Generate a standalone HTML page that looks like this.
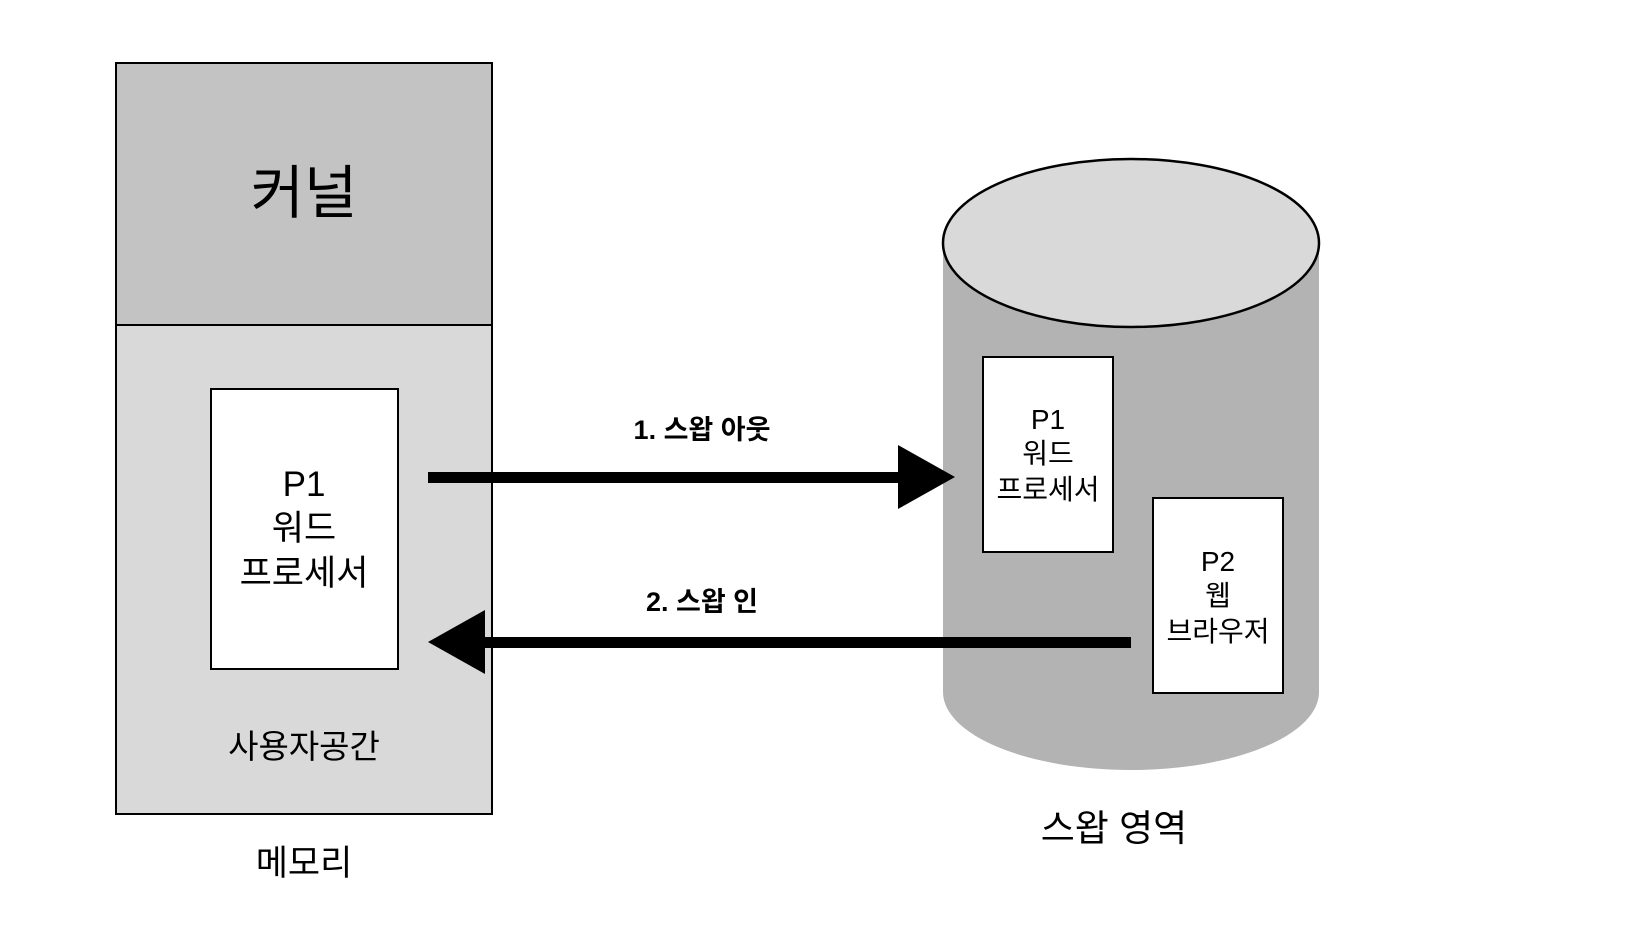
<!DOCTYPE html>
<html><head><meta charset="utf-8"><style>html,body{margin:0;padding:0;background:#fff}</style></head>
<body>
<svg width="1637" height="932" viewBox="0 0 1637 932" xmlns="http://www.w3.org/2000/svg" font-family="'Liberation Sans','Noto Sans CJK KR',sans-serif">
<rect x="0" y="0" width="1637" height="932" fill="#fff"/>
<rect x="116" y="63" width="376" height="262" fill="#c3c3c3" stroke="#000" stroke-width="2"/>
<rect x="116" y="325" width="376" height="489" fill="#d9d9d9" stroke="#000" stroke-width="2"/>
<rect x="211" y="389" width="187" height="280" fill="#fff" stroke="#000" stroke-width="2"/>
<text x="304" y="213" font-size="58" text-anchor="middle">커널</text>
<g font-size="35" text-anchor="middle">
<text x="304" y="496">P1</text>
<text x="304" y="540">워드</text>
<text x="304" y="585">프로세서</text>
</g>
<text x="304" y="758" font-size="33" text-anchor="middle">사용자공간</text>
<text x="304" y="875" font-size="35" text-anchor="middle">메모리</text>
<!-- cylinder -->
<path d="M943 243 L943 692 A188 78 0 0 0 1319 692 L1319 243 Z" fill="#b3b3b3"/>
<ellipse cx="1131" cy="243" rx="188" ry="84" fill="#d9d9d9" stroke="#000" stroke-width="2.5"/>
<rect x="983" y="357" width="130" height="195" fill="#fff" stroke="#000" stroke-width="2"/>
<rect x="1153" y="498" width="130" height="195" fill="#fff" stroke="#000" stroke-width="2"/>
<g font-size="28" text-anchor="middle">
<text x="1048" y="429">P1</text>
<text x="1048" y="463">워드</text>
<text x="1048" y="499">프로세서</text>
<text x="1218" y="571">P2</text>
<text x="1218" y="605">웹</text>
<text x="1218" y="641">브라우저</text>
</g>
<text x="1114" y="841" font-size="37" text-anchor="middle">스왑 영역</text>
<!-- arrows -->
<rect x="428" y="472" width="475" height="11" fill="#000"/>
<polygon points="898,445 955,477 898,509" fill="#000"/>
<rect x="480" y="637" width="651" height="11" fill="#000"/>
<polygon points="485,610 428,642 485,674" fill="#000"/>
<g font-size="27" font-weight="bold" text-anchor="middle">
<text x="702" y="439">1. 스왑 아웃</text>
<text x="702" y="611">2. 스왑 인</text>
</g>
</svg>
</body></html>
